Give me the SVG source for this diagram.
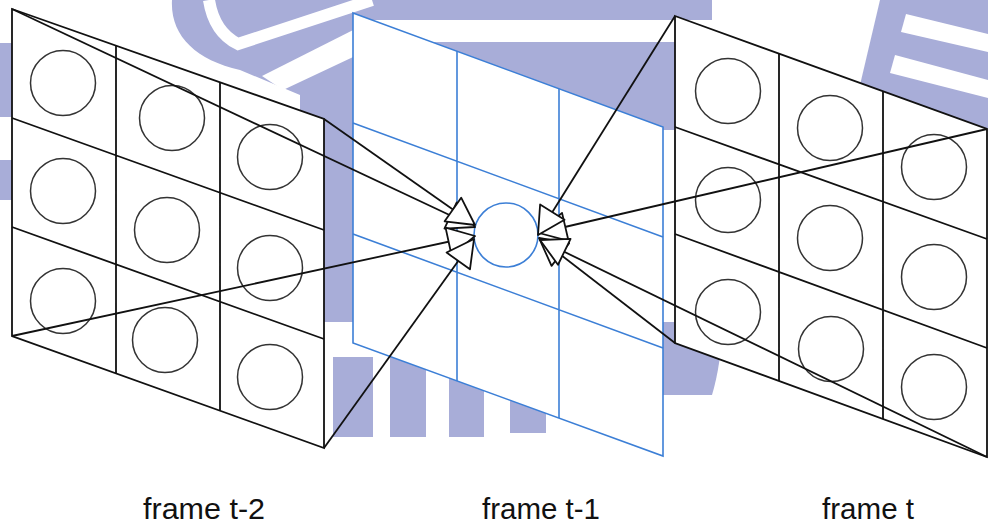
<svg xmlns="http://www.w3.org/2000/svg" width="988" height="526" viewBox="0 0 988 526">
<style>
.wm{fill:#a8add8;stroke:none}
.wmc{fill:#ffffff;stroke:none}
.frame{fill:#ffffff;stroke:#111;stroke-width:1.8}
.grid{fill:none;stroke:#111;stroke-width:1.8}
.cell{fill:none;stroke:#333;stroke-width:1.5}
.bframe{fill:#ffffff;stroke:#3c7fd6;stroke-width:1.6}
.bgrid{fill:none;stroke:#3c7fd6;stroke-width:1.6}
.conn{fill:none;stroke:#111;stroke-width:1.8;marker-end:url(#arr)}
.lbl{font-family:"Liberation Sans",Arial,sans-serif;font-size:30px;fill:#111}
</style>
<defs>
<marker id="arr" markerUnits="userSpaceOnUse" markerWidth="32" markerHeight="34" viewBox="-2 -2 32 34" refX="27" refY="14.4" orient="auto" overflow="visible">
<path d="M0,0 L27,14.4 L0,28.8 Z" fill="#ffffff" stroke="#111" stroke-width="1.8" stroke-linejoin="round"/>
</marker>
</defs>
<rect width="988" height="526" fill="#ffffff"/>
<g id="watermark">
<path class="wm" d="M172,0 H712 V130 H663 V335 H353 V322 H300 V95 L240,70 C195,60 170,35 172,0 Z"/>
<path d="M209,0 Q214,32 238,44 L372,0" fill="none" stroke="#ffffff" stroke-width="12"/>
<rect class="wmc" x="373" y="20" width="340" height="22"/>
<polygon class="wmc" points="373,20 385,42 283,90 262,76"/>
<rect class="wm" x="0" y="43" width="12" height="74"/>
<rect class="wm" x="0" y="160" width="12" height="40"/>
<path class="wm" d="M663,322 L722,322 C722,350 718,375 712,395 L663,395 Z"/>
<rect class="wm" x="333" y="357" width="40" height="80"/>
<rect class="wm" x="390" y="340" width="36" height="97"/>
<rect class="wm" x="449" y="340" width="35" height="97"/>
<rect class="wm" x="510" y="340" width="36" height="93"/>
<path class="wm" d="M880,0 H988 V129 L860,85 Z"/>
<polygon class="wmc" points="906,14 988,34 988,52 901,32"/>
<polygon class="wmc" points="895,55 988,80 988,98 890,73"/>
</g>
<g id="frame-t-2">
<polygon class="frame" points="12,9 324,119 324,448 12,336"/>
<path class="grid" d="M116,45.7 V373.3 M220,82.3 V410.7 M12,118 L324,230 M12,227 L324,339"/>
<circle class="cell" cx="63" cy="83" r="32.5"/>
<circle class="cell" cx="172" cy="118" r="32.5"/>
<circle class="cell" cx="270" cy="157" r="32.5"/>
<circle class="cell" cx="63" cy="191" r="32.5"/>
<circle class="cell" cx="167" cy="230" r="32.5"/>
<circle class="cell" cx="270" cy="268" r="32.5"/>
<circle class="cell" cx="63" cy="301" r="32.5"/>
<circle class="cell" cx="165" cy="340" r="32.5"/>
<circle class="cell" cx="270" cy="377" r="32.5"/>
</g>
<g id="frame-t-1">
<polygon class="bframe" points="353,13 663,127 663,456 353,343"/>
<path class="bgrid" d="M457,51.2 V380.9 M559,88.7 V418 M353,123 L663,237 M353,234 L663,348"/>
<circle class="bgrid" cx="506" cy="235" r="32"/>
</g>
<g id="frame-t">
<polygon class="frame" points="675,16 987,129 987,457 675,343"/>
<path class="grid" d="M779,53.7 V381 M883,91.3 V419 M675,127 L987,239 M675,234 L987,348"/>
<circle class="cell" cx="728" cy="91" r="32.5"/>
<circle class="cell" cx="830" cy="128" r="32.5"/>
<circle class="cell" cx="934" cy="167" r="32.5"/>
<circle class="cell" cx="728" cy="200" r="32.5"/>
<circle class="cell" cx="830" cy="238" r="32.5"/>
<circle class="cell" cx="934" cy="277" r="32.5"/>
<circle class="cell" cx="728" cy="312" r="32.5"/>
<circle class="cell" cx="831" cy="349" r="32.5"/>
<circle class="cell" cx="934" cy="387" r="32.5"/>
</g>
<g id="connectors">
<line class="conn" x1="12" y1="9" x2="475" y2="227"/>
<line class="conn" x1="12" y1="336" x2="475" y2="236"/>
<line class="conn" x1="324" y1="448" x2="474" y2="239"/>
<line class="conn" x1="324" y1="119" x2="475" y2="225"/>
<line class="conn" x1="987" y1="129" x2="539" y2="233"/>
<line class="conn" x1="675" y1="343" x2="539" y2="238"/>
<line class="conn" x1="987" y1="457" x2="540" y2="240"/>
<line class="conn" x1="675" y1="16" x2="538" y2="235"/>
</g>
<g id="labels">
<text class="lbl" x="143" y="519" textLength="122" lengthAdjust="spacingAndGlyphs">frame t-2</text>
<text class="lbl" x="482" y="519" textLength="118" lengthAdjust="spacingAndGlyphs">frame t-1</text>
<text class="lbl" x="822" y="519" textLength="92" lengthAdjust="spacingAndGlyphs">frame t</text>
</g>
</svg>
